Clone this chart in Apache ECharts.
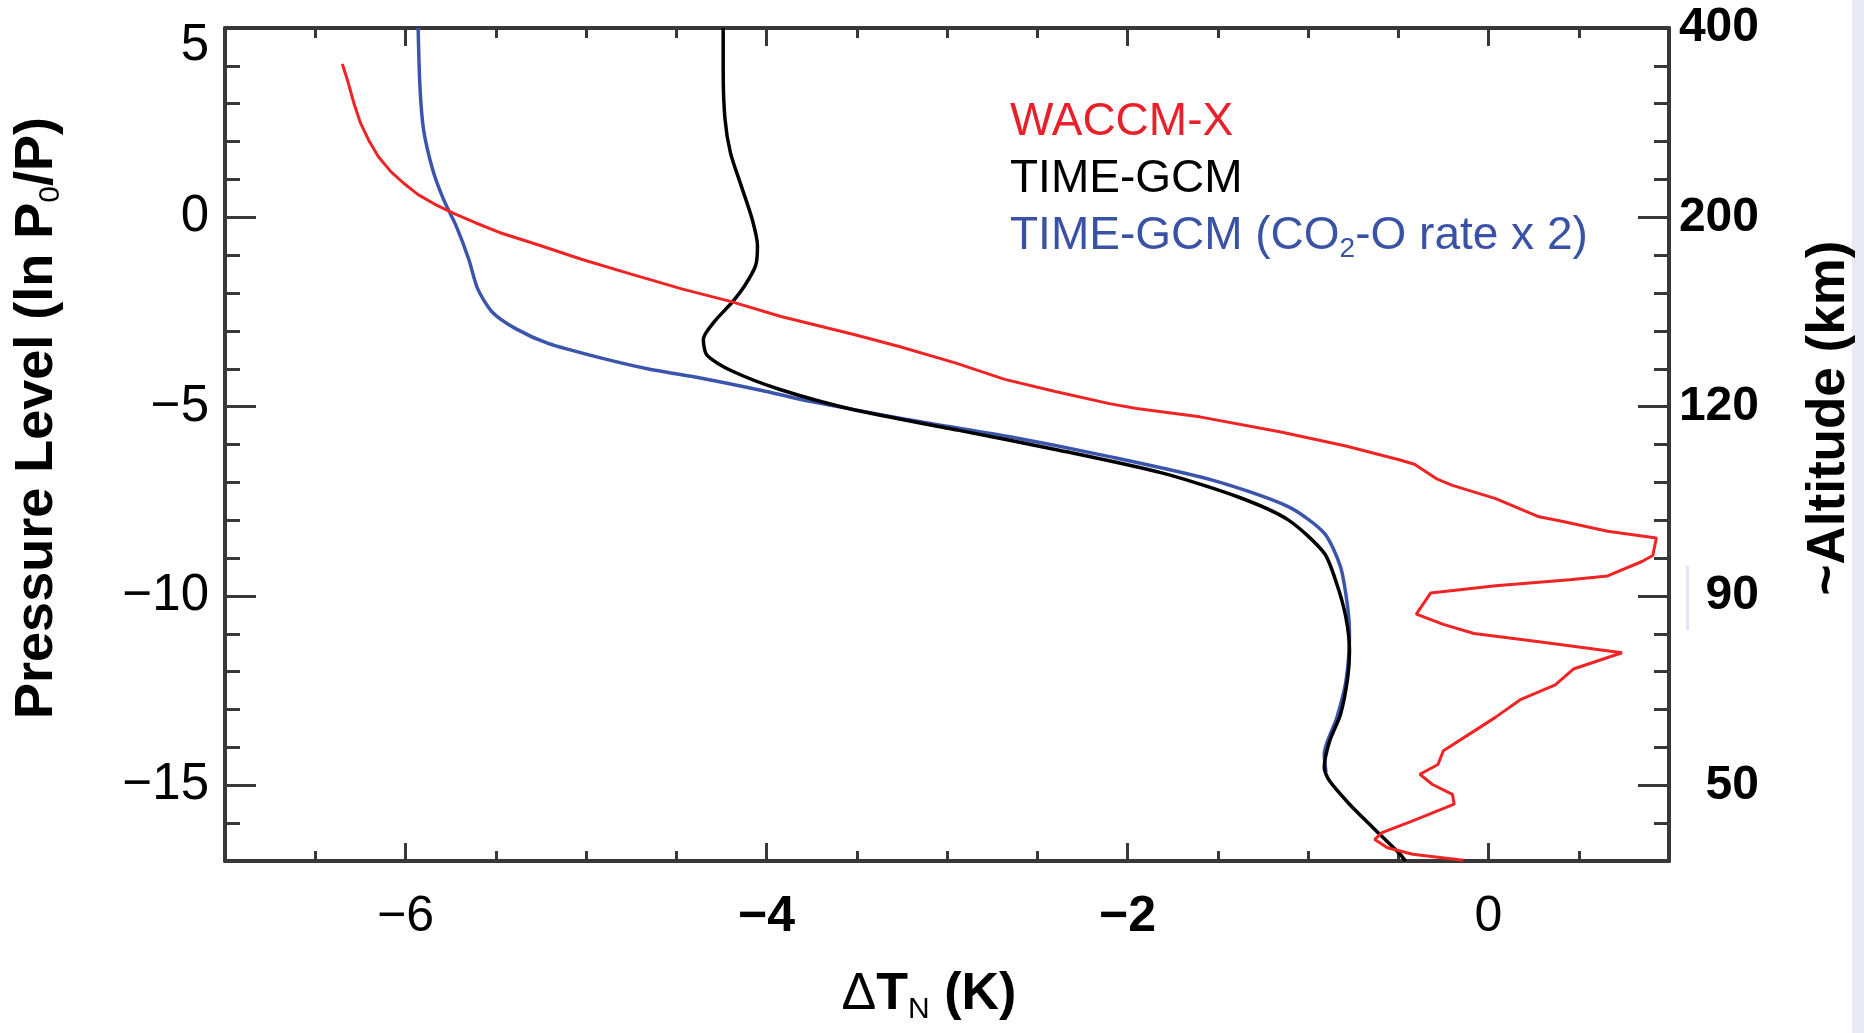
<!DOCTYPE html>
<html lang="en">
<head>
<meta charset="UTF-8">
<title>Delta T_N profiles</title>
<script src="https://cdn.jsdelivr.net/npm/echarts@6/dist/echarts.min.js"></script>
<style>
  html, body { margin: 0; padding: 0; background: #fff; }
  #main { width: 1864px; height: 1033px; }
</style>
</head>
<body>
<div id="main"></div>
<script>
// profiles as [deltaT (K), pressure level ln(P0/P)]
var waccmX = [
    [-6.35, 4.05], [-6.32, 3.6], [-6.285, 3.0], [-6.25, 2.5], [-6.20, 2.0], [-6.15, 1.6],
    [-6.08, 1.2], [-6.01, 0.9], [-5.93, 0.6], [-5.84, 0.35], [-5.73, 0.1], [-5.61, -0.15],
    [-5.48, -0.4], [-5.25, -0.75], [-5.03, -1.10], [-4.75, -1.50], [-4.47, -1.89], [-4.20, -2.22],
    [-3.92, -2.62], [-3.51, -3.10], [-3.26, -3.42], [-2.95, -3.85], [-2.68, -4.28], [-2.40, -4.60],
    [-2.10, -4.92], [-1.95, -5.05], [-1.60, -5.27], [-1.15, -5.67], [-0.79, -6.04], [-0.49, -6.41],
    [-0.41, -6.52], [-0.29, -6.90], [-0.20, -7.08], [0.04, -7.43], [0.28, -7.91], [0.40, -8.02],
    [0.66, -8.29], [0.93, -8.47], [0.91, -8.93], [0.85, -9.09], [0.66, -9.47], [0.45, -9.57],
    [0.04, -9.73], [-0.32, -9.92], [-0.40, -10.48], [-0.25, -10.75], [-0.08, -10.99], [0.28, -11.21],
    [0.74, -11.50], [0.47, -11.93], [0.37, -12.35], [0.18, -12.73], [0.04, -13.20], [-0.08, -13.57],
    [-0.25, -14.09], [-0.28, -14.45], [-0.38, -14.71], [-0.31, -14.98], [-0.20, -15.24], [-0.19, -15.50],
    [-0.42, -15.94], [-0.59, -16.25], [-0.63, -16.43], [-0.56, -16.65], [-0.42, -16.82], [-0.14, -16.98]
];
var timeGcm = [
    [-4.24, 5.0], [-4.24, 3.9], [-4.23, 2.6], [-4.20, 1.71], [-4.14, 0.83], [-4.08, -0.04],
    [-4.05, -0.75], [-4.06, -1.27], [-4.12, -1.80], [-4.19, -2.24], [-4.29, -2.76], [-4.35, -3.22],
    [-4.33, -3.64], [-4.20, -4.04], [-3.93, -4.54], [-3.51, -5.09], [-2.94, -5.62], [-2.38, -6.15],
    [-1.81, -6.75], [-1.39, -7.38], [-1.11, -7.99], [-0.91, -8.87], [-0.84, -9.69], [-0.79, -10.57],
    [-0.77, -11.45], [-0.78, -12.16], [-0.82, -13.13], [-0.88, -13.83], [-0.91, -14.54], [-0.88, -14.89],
    [-0.77, -15.50], [-0.64, -16.12], [-0.49, -16.82], [-0.46, -17.0]
];
var timeGcmCo2 = [
    [-5.93, 5.0], [-5.92, 3.46], [-5.90, 2.32], [-5.85, 1.27], [-5.79, 0.48], [-5.72, -0.22],
    [-5.65, -1.10], [-5.60, -1.89], [-5.52, -2.50], [-5.39, -2.94], [-5.21, -3.33], [-4.93, -3.70],
    [-4.66, -4.00], [-4.36, -4.25], [-4.00, -4.60], [-3.79, -4.83], [-3.23, -5.33], [-2.66, -5.79],
    [-2.10, -6.32], [-1.53, -6.94], [-1.11, -7.64], [-0.91, -8.34], [-0.82, -9.23], [-0.78, -10.3],
    [-0.77, -11.01], [-0.79, -12.25], [-0.84, -13.21], [-0.91, -14.18], [-0.90, -14.65]
];

var xLabelValues = [-6, -4, -2, 0];
var boldXLabels = [-4, -2];
var yLabelValues = [5, 0, -5, -10, -15];
var yMajorTicks = [0, -5, -10, -15];
var altitudeLabels = ['400', '200', '120', '90', '50'];

var FONT = '"Liberation Sans", Arial, Helvetica, sans-serif';
var AXIS_COLOR = '#383838';

function minus(v) {
    return v < 0 ? '\u2212' + Math.abs(v) : String(v);
}

var frameX = {
    type: 'value', min: -7, max: 1,
    axisLine: {show: true, onZero: false, lineStyle: {color: AXIS_COLOR, width: 4}},
    splitLine: {show: false}
};

function xAxisMajor(pos, labels) {
    return echarts.util.merge({
        position: pos,
        axisTick: {show: true, inside: true, length: 18, customValues: xLabelValues,
            lineStyle: {color: AXIS_COLOR, width: 3}},
        axisLabel: labels ? {
            show: true, customValues: xLabelValues, margin: 31, color: '#000',
            fontFamily: FONT, fontSize: 50,
            formatter: function (v) {
                return boldXLabels.indexOf(v) >= 0 ? '{b|' + minus(v) + '}' : '{n|' + minus(v) + '}';
            },
            rich: {
                b: {fontFamily: FONT, fontSize: 50, fontWeight: 'bold', color: '#000'},
                n: {fontFamily: FONT, fontSize: 50, fontWeight: 'normal', color: '#000'}
            }
        } : {show: false}
    }, frameX, true);
}

function xAxisMinor(pos) {
    return {
        type: 'value', min: -7, max: 1, interval: 0.5, position: pos,
        axisLine: {show: false, onZero: false},
        axisTick: {show: true, inside: true, length: 10, lineStyle: {color: AXIS_COLOR, width: 3}},
        axisLabel: {show: false}, splitLine: {show: false}
    };
}

function yAxisMajor(pos) {
    var left = pos === 'left';
    return {
        type: 'value', min: -17, max: 5, position: pos,
        axisLine: {show: true, onZero: false, lineStyle: {color: AXIS_COLOR, width: 4}},
        axisTick: {show: true, inside: true, length: 31, customValues: yMajorTicks,
            lineStyle: {color: AXIS_COLOR, width: 3}},
        axisLabel: left ? {
            show: true, customValues: yLabelValues, margin: 16, color: '#000',
            fontFamily: FONT, fontSize: 51,
            formatter: function (v) {
                return v === 5 ? '{top|5}' : '{n|' + minus(v) + '}';
            },
            rich: {
                top: {fontFamily: FONT, fontSize: 51, color: '#000', padding: [36, 0, 0, 0]},
                n: {fontFamily: FONT, fontSize: 51, color: '#000'}
            }
        } : {
            show: true, customValues: yLabelValues, margin: 90, align: 'right', color: '#000',
            fontFamily: FONT, fontSize: 48, fontWeight: 'bold',
            formatter: function (v) {
                return altitudeLabels[yLabelValues.indexOf(v)];
            }
        },
        splitLine: {show: false}
    };
}

function yAxisMinor(pos) {
    return {
        type: 'value', min: -17, max: 5, interval: 1, position: pos,
        axisLine: {show: false, onZero: false},
        axisTick: {show: true, inside: true, length: 15, lineStyle: {color: AXIS_COLOR, width: 3}},
        axisLabel: {show: false}, splitLine: {show: false}
    };
}

var myChart = echarts.init(document.getElementById('main'), null, {renderer: 'canvas'});

option = {
    backgroundColor: '#fff',
    animation: false,
    grid: {left: 225, right: 195, top: 28, bottom: 172, containLabel: false, outerBoundsMode: 'none'},
    xAxis: [xAxisMajor('bottom', true), xAxisMinor('bottom'), xAxisMajor('top', false), xAxisMinor('top')],
    yAxis: [yAxisMajor('left'), yAxisMinor('left'), yAxisMajor('right'), yAxisMinor('right')],
    legend: {
        orient: 'vertical', left: 999, top: 89,
        itemWidth: 0, itemHeight: 0, itemGap: 0,
        selectedMode: false,
        itemStyle: {opacity: 0}, lineStyle: {opacity: 0},
        textStyle: {
            fontFamily: FONT, fontSize: 46, lineHeight: 57,
            rich: {
                t: {fontFamily: FONT, fontSize: 46, lineHeight: 57, color: '#3a52a6'},
                s: {fontFamily: FONT, fontSize: 28, lineHeight: 57, color: '#3a52a6', padding: [26, 0, 0, 0]}
            }
        },
        data: [
            {name: 'WACCM-X', textStyle: {color: '#e8202a'}},
            {name: 'TIME-GCM', textStyle: {color: '#000'}},
            {name: 'TIME-GCM (CO2-O rate x 2)', textStyle: {color: '#3a52a6'}}
        ],
        formatter: function (name) {
            if (name === 'TIME-GCM (CO2-O rate x 2)') {
                return '{t|TIME-GCM (CO}{s|2}{t|-O rate x 2)}';
            }
            return name;
        }
    },
    series: [
        {
            name: 'TIME-GCM (CO2-O rate x 2)', type: 'line', data: timeGcmCo2,
            showSymbol: false, symbol: 'none', smooth: 0.25,
            lineStyle: {color: '#3b55ad', width: 3.5}, itemStyle: {color: '#3b55ad'}
        },
        {
            name: 'TIME-GCM', type: 'line', data: timeGcm,
            showSymbol: false, symbol: 'none', smooth: 0.25,
            lineStyle: {color: '#000', width: 3.5}, itemStyle: {color: '#000'}
        },
        {
            name: 'WACCM-X', type: 'line', data: waccmX,
            showSymbol: false, symbol: 'none',
            lineStyle: {color: '#f02424', width: 3}, itemStyle: {color: '#f02424'}
        }
    ],
    graphic: [
        {
            type: 'rect', right: 0, top: 0, z: -10,
            shape: {width: 12, height: 1033},
            style: {fill: '#e9e9f4'}
        },
        {
            type: 'rect', left: 1686, top: 566, z: -10,
            shape: {width: 3, height: 64},
            style: {fill: '#e2e4f2'}
        },
        {
            type: 'text', x: 37, y: 418, rotation: Math.PI / 2,
            style: {
                text: 'Pressure Level (ln P{s|0}/P)',
                fontFamily: FONT, fontSize: 54, fontWeight: 'bold', fill: '#000',
                align: 'center', verticalAlign: 'middle',
                rich: {
                    s: {fontFamily: FONT, fontSize: 30, fontWeight: 'normal', fill: '#000', padding: [28, 0, 0, 0]}
                }
            }
        },
        {
            type: 'text', x: 1829, y: 418, rotation: Math.PI / 2,
            style: {
                text: '~Altitude (km)',
                fontFamily: FONT, fontSize: 53, fontWeight: 'bold', fill: '#000',
                align: 'center', verticalAlign: 'middle'
            }
        },
        {
            type: 'text', x: 929, y: 995,
            style: {
                text: '{d|\u0394}{b|T}{s|N}{b| (K)}',
                fontFamily: FONT, fontSize: 52, fontWeight: 'bold', fill: '#000',
                align: 'center', verticalAlign: 'middle',
                rich: {
                    d: {fontFamily: FONT, fontSize: 52, fontWeight: 'normal', fill: '#000'},
                    b: {fontFamily: FONT, fontSize: 52, fontWeight: 'bold', fill: '#000'},
                    s: {fontFamily: FONT, fontSize: 30, fontWeight: 'normal', fill: '#000', padding: [30, 0, 0, 0]}
                }
            }
        }
    ]
};
myChart.setOption(option);
</script>
</body>
</html>
